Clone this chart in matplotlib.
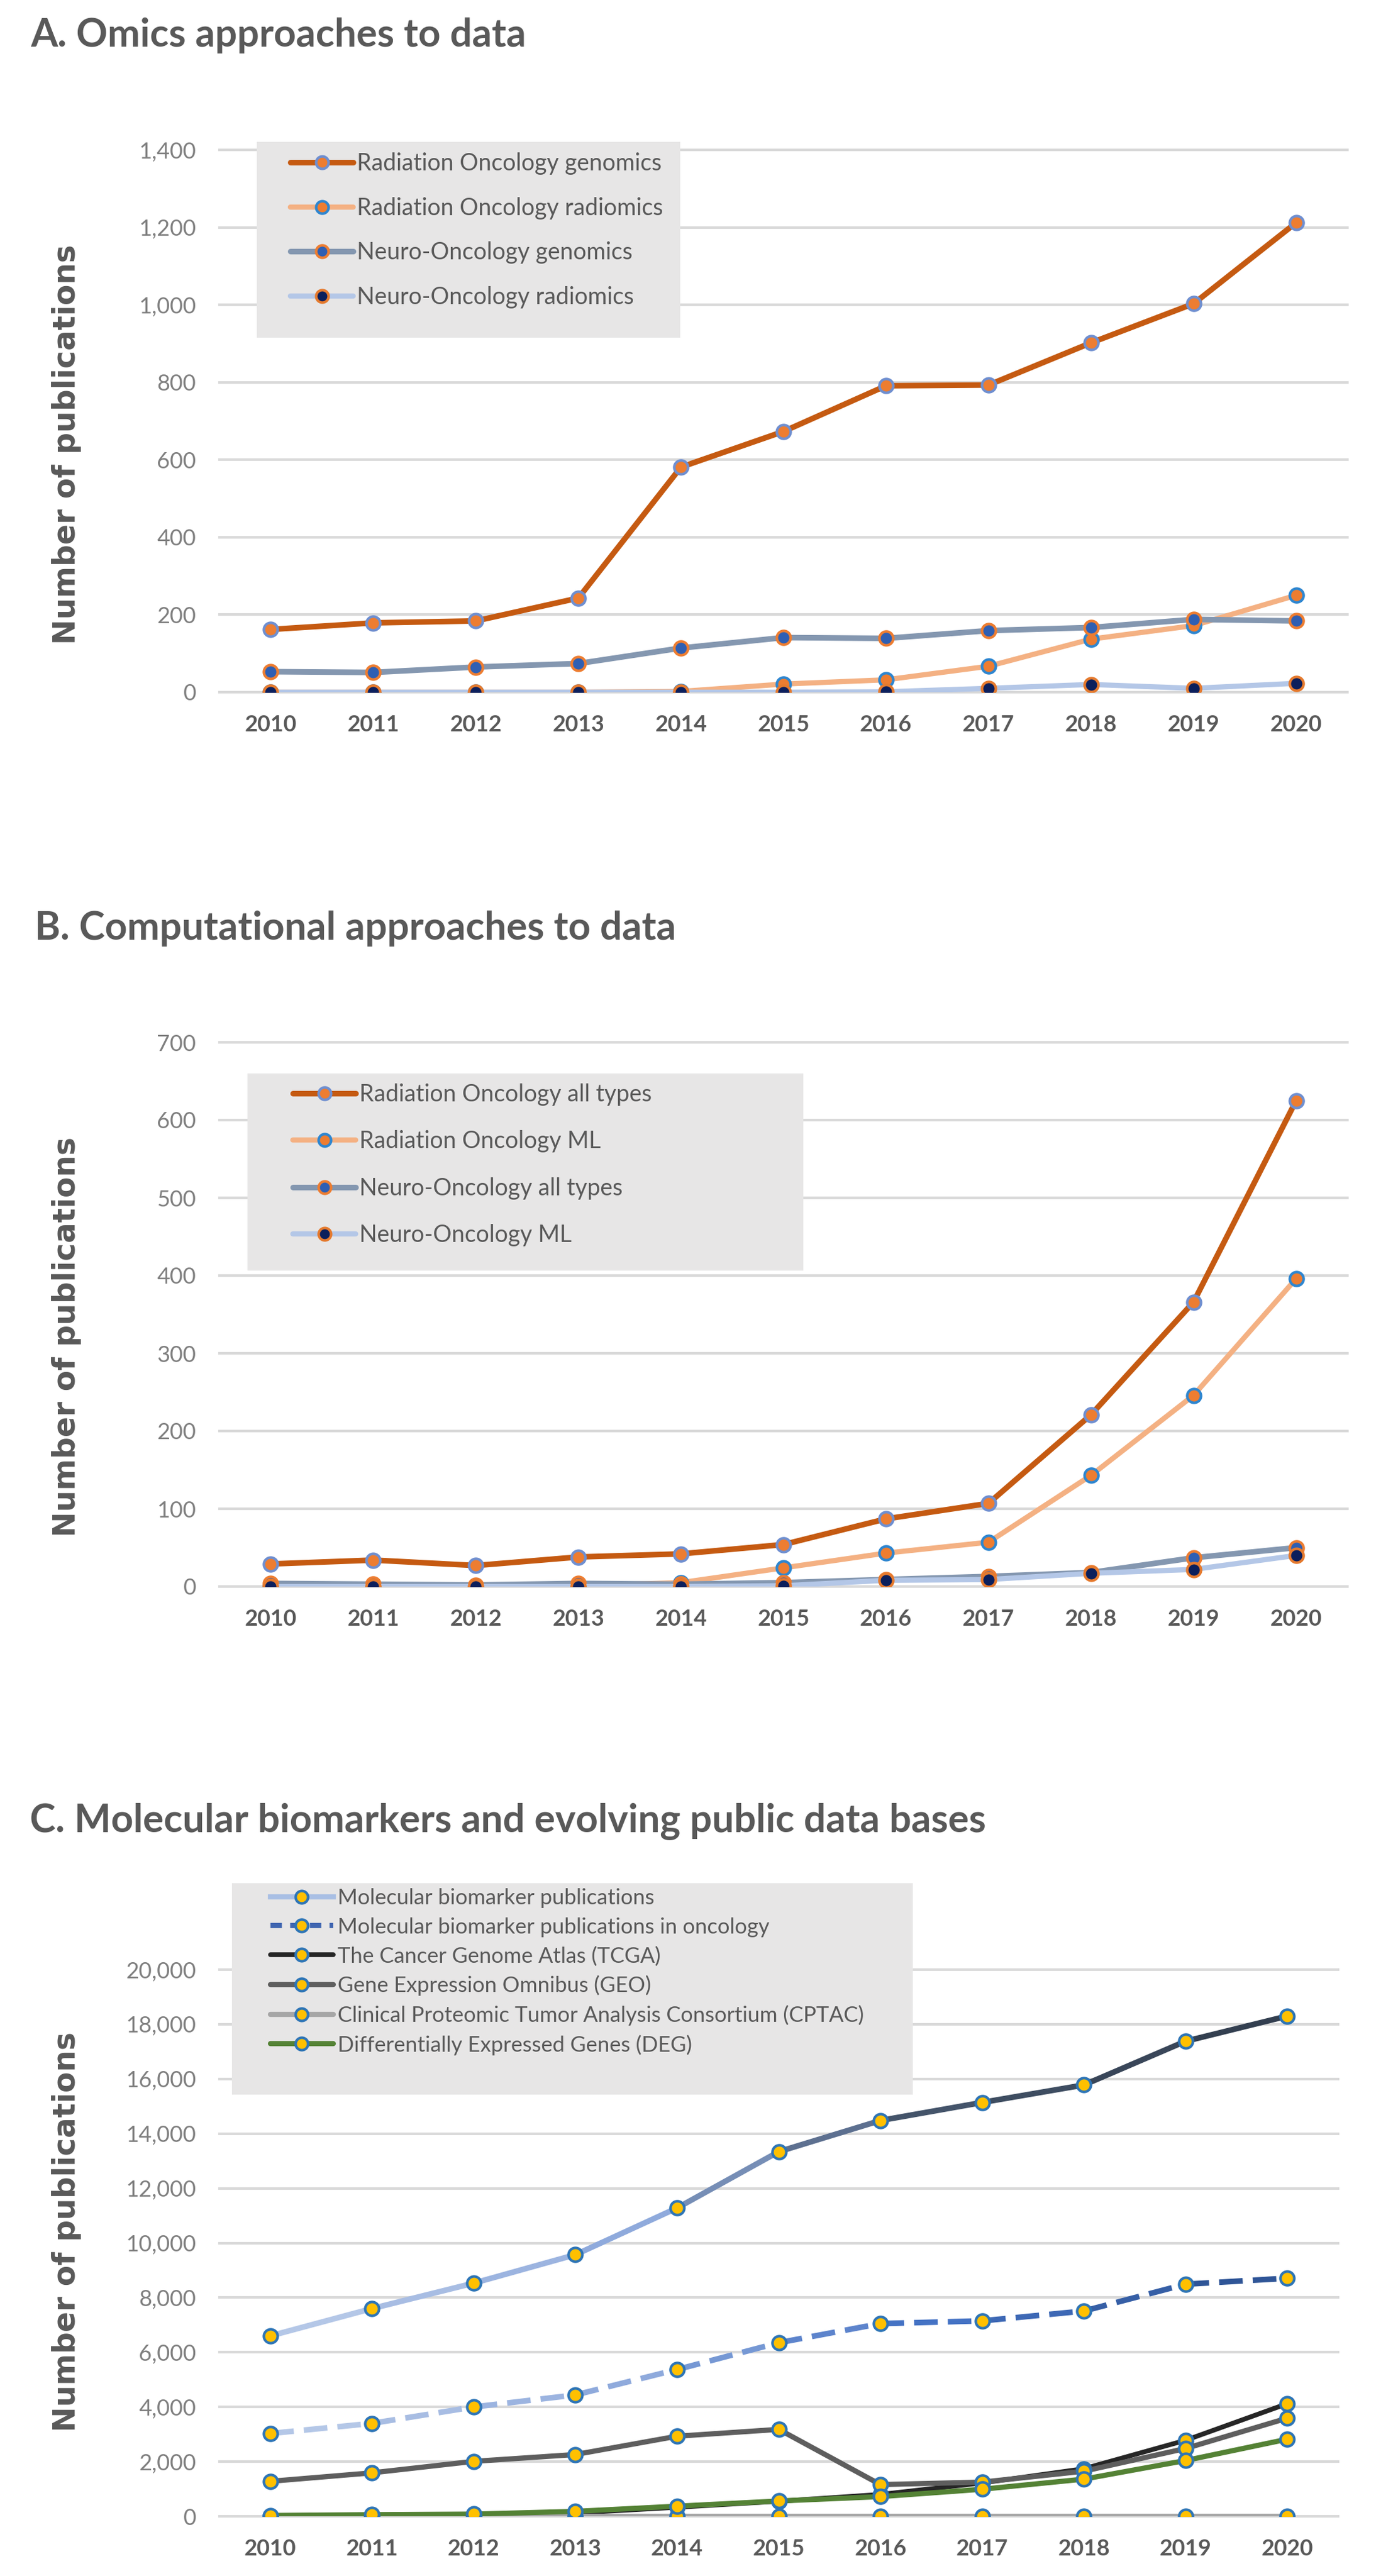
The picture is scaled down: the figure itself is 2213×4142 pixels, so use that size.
import matplotlib
matplotlib.use('Agg')
import matplotlib.pyplot as plt
from matplotlib.collections import LineCollection
from matplotlib.colors import LinearSegmentedColormap
from matplotlib.lines import Line2D
from matplotlib.patches import Rectangle
from matplotlib.ticker import FuncFormatter
import numpy as np

plt.rcParams['font.family'] = ['Lato', 'DejaVu Sans']

W, H = 2213, 4142

years = [2010, 2011, 2012, 2013, 2014, 2015, 2016, 2017, 2018, 2019, 2020]

# A. omics
a_labels = ['Radiation Oncology genomics', 'Radiation Oncology radiomics',
            'Neuro-Oncology genomics', 'Neuro-Oncology radiomics']
a_rad_gen = [162, 179, 184, 243, 581, 673, 791, 793, 902, 1003, 1212]
a_rad_rad = [0, 0, 0, 0, 2, 21, 32, 67, 137, 172, 250]
a_neuro_gen = [53, 51, 65, 74, 114, 141, 139, 159, 167, 188, 184]
a_neuro_rad = [0, 0, 0, 0, 0, 0, 1, 10, 20, 10, 23]

# B. computational
b_labels = ['Radiation Oncology all types', 'Radiation Oncology ML',
            'Neuro-Oncology all types', 'Neuro-Oncology ML']
b_rad_all = [29, 34, 27, 38, 42, 54, 87, 107, 221, 366, 625]
b_rad_ml = [0, 0, 0, 1, 5, 24, 43, 57, 143, 246, 396]
b_neuro_all = [4, 3, 2, 4, 3, 5, 9, 13, 18, 37, 50]
b_neuro_ml = [0, 0, 0, 0, 0, 1, 8, 9, 17, 22, 40]

# C. biomarkers / data bases
c_labels = ['Molecular biomarker publications',
            'Molecular biomarker publications in oncology',
            'The Cancer Genome Atlas (TCGA)', 'Gene Expression Omnibus (GEO)',
            'Clinical Proteomic Tumor Analysis Consortium (CPTAC)',
            'Differentially Expressed Genes (DEG)']
c_mol = [6600, 7600, 8530, 9570, 11280, 13340, 14480, 15140, 15780, 17380, 18300]
c_mol_onc = [3030, 3400, 4000, 4440, 5370, 6350, 7050, 7150, 7510, 8490, 8710]
c_tcga = [0, 20, 50, 120, 330, 550, 800, 1220, 1740, 2780, 4120]
c_geo = [1280, 1590, 2010, 2260, 2930, 3180, 1160, 1250, 1650, 2480, 3590]
c_cptac = [0, 0, 0, 0, 0, 0, 0, 0, 0, 0, 0]
c_deg = [30, 60, 80, 180, 370, 560, 720, 990, 1360, 2040, 2820]

GREY = '#595959'

fig = plt.figure(figsize=(W / 100, H / 100), dpi=100)


def rect(left, top, right, bottom):
    return [left / W, 1 - bottom / H, (right - left) / W, (bottom - top) / H]


def style(ax, ymax, step):
    ax.set_xlim(2009.5, 2020.5)
    ax.set_ylim(0, ymax)
    ax.set_xticks(years)
    ax.set_yticks(range(0, ymax + 1, step))
    ax.yaxis.set_major_formatter(FuncFormatter(lambda v, p: f'{v:,.0f}'))
    ax.grid(axis='y', color='#D9D9D9', lw=3)
    ax.set_axisbelow(True)
    for g in ax.get_ygridlines():
        g.set_clip_on(False)
    for s in ax.spines.values():
        s.set_visible(False)
    ax.tick_params(axis='both', length=0)
    ax.tick_params(axis='y', labelsize=26, labelcolor='#7F7F7F', pad=27)
    ax.tick_params(axis='x', labelsize=26, labelcolor=GREY, pad=26)
    for t in ax.get_xticklabels():
        t.set_fontweight('bold')


def series(ax, y, color, lw, mfc, mec, label):
    ax.plot(years, y, color=color, lw=lw, marker='o', ms=16, mfc=mfc, mec=mec,
            mew=3, label=label, solid_joinstyle='round', solid_capstyle='round')


def gradient(ax, y, colors, lw, dashed=False):
    cmap = LinearSegmentedColormap.from_list('g', colors)
    pts = np.column_stack([years, y])
    segs = np.stack([pts[:-1], pts[1:]], axis=1)
    lc = LineCollection(segs, colors=cmap(np.linspace(0, 1, len(segs))), linewidths=lw,
                        capstyle='butt' if dashed else 'round', joinstyle='round')
    if dashed:
        lc.set_linestyle((0, (4.2, 1.8)))
    ax.add_collection(lc)
    ax.plot(years, y, ls='none', marker='o', ms=16, mfc='#FFC000', mec='#2E75B6', mew=3)


def legend_box(left, top, right, bottom):
    fig.add_artist(Rectangle((left / W, 1 - bottom / H), (right - left) / W, (bottom - top) / H,
                             transform=fig.transFigure, facecolor='#E7E6E6',
                             edgecolor='none', zorder=2))


def panel_text(title, tx, ty, ly):
    fig.text(tx / W, 1 - ty / H, title, fontsize=45, fontweight='bold', color=GREY,
             ha='left', va='center')
    fig.text(107 / W, 1 - ly / H, 'Number of publications', fontsize=35,
             fontweight='bold', color=GREY, rotation=90, ha='center', va='center',
             family='DejaVu Sans')


# ---- A ----
axA = fig.add_axes(rect(353, 241, 2167, 1113))
series(axA, a_rad_gen, '#C55A11', 6.5, '#ED7D31', '#6F8FD0', a_labels[0])
series(axA, a_rad_rad, '#F4B183', 6, '#ED7D31', '#2E86D0', a_labels[1])
series(axA, a_neuro_gen, '#8497B0', 6.5, '#2F5FB3', '#ED7D31', a_labels[2])
series(axA, a_neuro_rad, '#B4C7E7', 6, '#0B1F5C', '#E57A2E', a_labels[3])
style(axA, 1400, 200)
panel_text('A. Omics approaches to data', 49, 57, 715)
legend_box(413, 228, 1094, 543)
h, l = axA.get_legend_handles_labels()
fig.legend(h, l, loc='upper left', bbox_to_anchor=(467 / W, 1 - 245 / H),
           bbox_transform=fig.transFigure, frameon=False, borderpad=0, borderaxespad=0,
           handlelength=2.7, handletextpad=0.15, labelspacing=0.95, fontsize=27,
           labelcolor=GREY, markerscale=0.9)

# ---- B ----
axB = fig.add_axes(rect(353, 1676, 2167, 2551))
series(axB, b_rad_all, '#C55A11', 6.5, '#ED7D31', '#6F8FD0', b_labels[0])
series(axB, b_rad_ml, '#F4B183', 6, '#ED7D31', '#2E86D0', b_labels[1])
series(axB, b_neuro_all, '#8497B0', 6.5, '#2F5FB3', '#ED7D31', b_labels[2])
series(axB, b_neuro_ml, '#B4C7E7', 6, '#0B1F5C', '#E57A2E', b_labels[3])
style(axB, 700, 100)
panel_text('B. Computational approaches to data', 56, 1493, 2150)
legend_box(398, 1726, 1292, 2043)
h, l = axB.get_legend_handles_labels()
fig.legend(h, l, loc='upper left', bbox_to_anchor=(471 / W, 1 - 1742 / H),
           bbox_transform=fig.transFigure, frameon=False, borderpad=0, borderaxespad=0,
           handlelength=2.7, handletextpad=0.15, labelspacing=1.05, fontsize=27,
           labelcolor=GREY, markerscale=0.9)

# ---- C ----
axC = fig.add_axes(rect(353, 3167, 2152, 4046))
gradient(axC, c_mol, ['#B4C7E7', '#8FAADC', '#44546A', '#333F50'], 6.5)
gradient(axC, c_mol_onc, ['#B4C7E7', '#8FAADC', '#4472C4', '#2F5597'], 6.5, dashed=True)
series(axC, c_tcga, '#262626', 5.5, '#FFC000', '#2E75B6', c_labels[2])
series(axC, c_geo, '#5E5E5E', 6, '#FFC000', '#2E75B6', c_labels[3])
series(axC, c_cptac, '#A6A6A6', 6, '#FFC000', '#2E75B6', c_labels[4])
series(axC, c_deg, '#548235', 6, '#FFC000', '#2E75B6', c_labels[5])
style(axC, 20000, 2000)
panel_text('C. Molecular biomarkers and evolving public data bases', 48, 2928, 3589)
legend_box(373, 3028, 1468, 3368)
mk = dict(marker='o', ms=16, mfc='#FFC000', mec='#2E75B6', mew=3)
handles = [Line2D([], [], color='#A9BFE4', lw=6, **mk),
           Line2D([], [], color='#3F65B0', lw=6, dashes=(2.2, 1.6), **mk)]
h, l = axC.get_legend_handles_labels()
fig.legend(handles + h, c_labels, loc='upper left', bbox_to_anchor=(435 / W, 1 - 3036 / H),
           bbox_transform=fig.transFigure, frameon=False, borderpad=0, borderaxespad=0,
           handlelength=2.9, handletextpad=0.2, labelspacing=0.42, fontsize=25,
           labelcolor=GREY, markerscale=0.9)

fig.savefig('out.png', dpi=100, facecolor='white')
